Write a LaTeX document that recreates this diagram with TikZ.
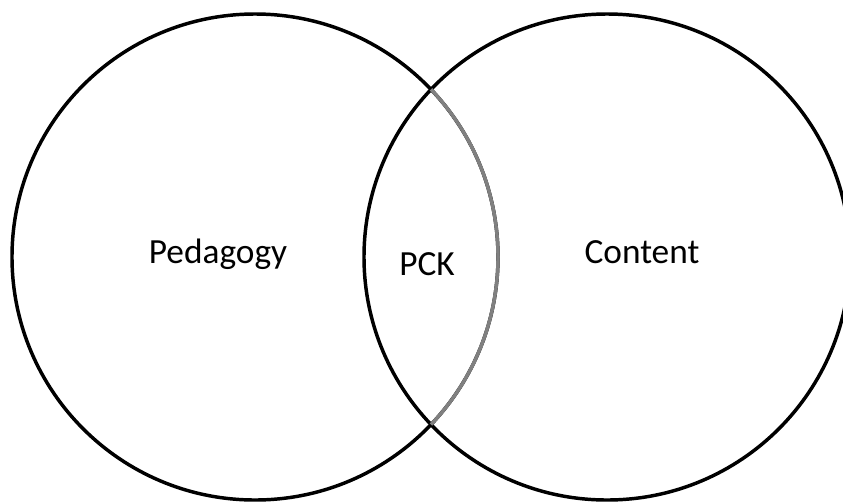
\documentclass[tikz,border=0pt]{standalone}
\usepackage{fontspec}
\setmainfont{Carlito}
\usepackage{tikz}
\def\firstcircle{(255,257) circle(243)}
\def\secondcircle{(607,257) circle(243)}

\begin{document}
\begin{tikzpicture}[x=0.75pt,y=-0.75pt,line width=2.6pt,
		label/.style={anchor=base,font=\fontsize{26.5}{31}\selectfont}]
				\clip (0,0) rectangle(843,501);
				
				%drawing outlines of the circles
				\draw \firstcircle;
				\draw \secondcircle;
				\draw[black!50] (431,89.4) arc(-43.6:43.6:243);
				 
				\node[label] (ped) at (218,263){Pedagogy};
				\node[label] (pck) at (427,275){PCK};
				\node[label] (con) at (642,263){Content};
			\end{tikzpicture}
\end{document}
